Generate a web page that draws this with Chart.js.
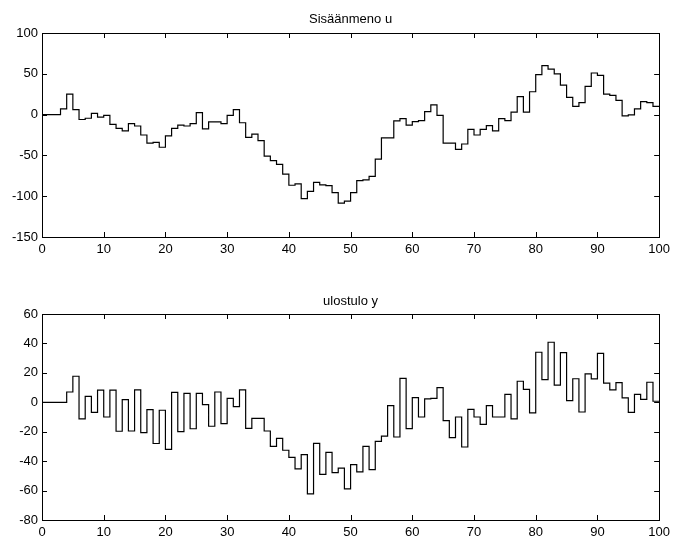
<!DOCTYPE html>
<html>
<head>
<meta charset="utf-8">
<script src="https://cdn.jsdelivr.net/npm/chart.js@4/dist/chart.umd.min.js"></script>
<style>
  html, body { margin: 0; padding: 0; background: #fff; }
  #wrap { position: relative; width: 675px; height: 540px; }
  canvas { position: absolute; left: 0; }
  #top { top: 0; }
  #bottom { top: 270px; }
</style>
</head>
<body>
<div id="wrap">
  <canvas id="top" width="675" height="270"></canvas>
  <canvas id="bottom" width="675" height="270"></canvas>
</div>
<script>
// --- data (sample index 0..100, stairs) ---
const steps = Array.from({ length: 101 }, (_, i) => i);

const inputU = [
  0, 0, 0, 7, 25, 6, -6, -4.5, 1.6, -3,
  -1, -12, -17, -20, -11, -14, -25, -35, -34, -40,
  -26, -17, -13, -14, -11, 2.4, -17.5, -9, -9, -11,
  -1, 6, -10, -28, -24, -32, -51, -56.5, -61, -73,
  -86.6, -85, -103, -94, -83, -86, -87, -95.5, -108.5, -106,
  -95.5, -81, -80, -75.6, -54.5, -28.5, -28.5, -7.7, -5, -13,
  -8.5, -7.3, 3.7, 12, -1, -35, -35, -42.7, -36, -18,
  -25, -18, -13.4, -20, -5, -7.3, 3, 22, 3, 28,
  49, 60, 55.7, 50, 36, 21, 10, 14.6, 34.5, 51,
  48, 25, 23.6, 17.5, -1.6, -0.4, 7, 16, 14.6, 10,
  10
];

const outputY = [
  0, 0, 0, 0, 7, 17.7, -11.3, 4, -6.8, 8.2,
  -10, 8.2, -19.7, 1.8, -19.5, 8.4, -20.6, -5, -28, -5.4,
  -32, 6.8, -20, 6, -18, 6, -1.6, -16.3, 7, -14.5,
  2.7, -3, 8.4, -17.7, -11, -11, -19.5, -30, -24.5, -32.6,
  -37.4, -45.3, -35.6, -62.3, -27.9, -49, -34, -47.8, -44.8, -58.9,
  -42.4, -47.3, -30, -45.8, -26.5, -23, -2.3, -23.6, 16.3, -17.9,
  3.2, -10, 2.3, 2.7, 10, -12.5, -24, -10, -30.4, -4.8,
  -10, -15, -2.3, -10, -10, 5.4, -11.3, 14.3, 8.8, -7.2,
  34, 15.4, 40.8, 11.6, 33.7, 1.1, 16, -6.6, 19.3, 15.9,
  33.3, 13, 8.4, 13.4, 3, -6.8, 5.4, 2, 13.6, 0.7,
  0.7
];

const xTicks = [0, 10, 20, 30, 40, 50, 60, 70, 80, 90, 100];
const uTicks = [-150, -100, -50, 0, 50, 100];
const yTicks = [-80, -60, -40, -20, 0, 20, 40, 60];

const FONT = 'Liberation Sans, Arial, Helvetica, sans-serif';

// box with inward ticks on all four sides + title centred over the axes
const boxTicks = {
  id: 'boxTicks',
  afterDraw(chart, args, opts) {
    const { ctx, chartArea: a, scales } = chart;
    const len = 5;
    ctx.save();
    ctx.strokeStyle = '#000';
    ctx.lineWidth = 1;
    ctx.beginPath();
    scales.x.ticks.forEach(t => {
      const px = Math.round(scales.x.getPixelForValue(t.value)) + 0.5;
      ctx.moveTo(px, a.bottom); ctx.lineTo(px, a.bottom - len);
      ctx.moveTo(px, a.top); ctx.lineTo(px, a.top + len);
    });
    scales.y.ticks.forEach(t => {
      const py = Math.round(scales.y.getPixelForValue(t.value)) + 0.5;
      ctx.moveTo(a.left, py); ctx.lineTo(a.left + len, py);
      ctx.moveTo(a.right, py); ctx.lineTo(a.right - len, py);
    });
    ctx.stroke();
    ctx.strokeRect(Math.round(a.left) + 0.5, Math.round(a.top) + 0.5,
      Math.round(a.right - a.left), Math.round(a.bottom - a.top));

    ctx.fillStyle = '#000';
    ctx.font = '13px ' + FONT;
    ctx.textAlign = 'center';
    ctx.textBaseline = 'middle';
    ctx.fillText(opts.text, (a.left + a.right) / 2, a.top - opts.gap);
    ctx.restore();
  }
};

function makeChart(id, title, values, yMin, yMax, yTickList, topPad, gap, xHeight) {
  return new Chart(document.getElementById(id), {
    type: 'line',
    data: {
      datasets: [{
        data: steps.map((x, i) => ({ x: x, y: values[i] })),
        stepped: 'before',
        borderColor: '#000',
        borderWidth: 1.2,
        pointRadius: 0,
        fill: false
      }]
    },
    options: {
      responsive: false,
      animation: false,
      layout: { padding: { left: 0, right: 14, top: topPad, bottom: 0 } },
      plugins: {
        legend: { display: false },
        tooltip: { enabled: false },
        title: { display: false },
        boxTicks: { text: title, gap: gap }
      },
      scales: {
        x: {
          type: 'linear',
          min: 0, max: 100,
          grid: { display: false, drawTicks: false },
          border: { display: false },
          afterBuildTicks: s => { s.ticks = xTicks.map(v => ({ value: v })); },
          afterFit: s => { s.height = xHeight; },
          ticks: { color: '#000', padding: 5, maxRotation: 0, font: { family: FONT, size: 13 } }
        },
        y: {
          min: yMin, max: yMax,
          grid: { display: false, drawTicks: false },
          border: { display: false },
          afterBuildTicks: s => { s.ticks = yTickList.map(v => ({ value: v })); },
          afterFit: s => { s.width = 42; },
          ticks: { color: '#000', padding: 4, font: { family: FONT, size: 13 } }
        }
      }
    },
    plugins: [boxTicks]
  });
}

makeChart('top', 'Sisäänmeno u', inputU, -150, 100, uTicks, 33, 14, 33);
makeChart('bottom', 'ulostulo y', outputY, -80, 60, yTicks, 44, 13, 20);
</script>
</body>
</html>
